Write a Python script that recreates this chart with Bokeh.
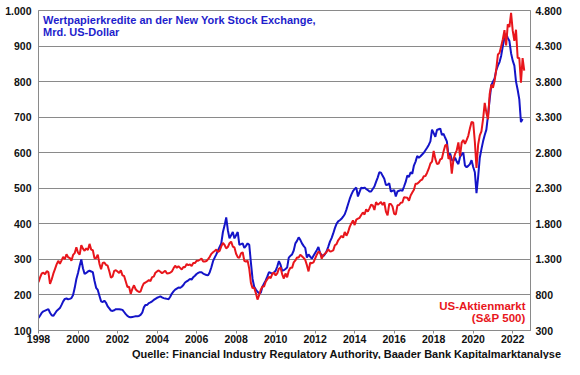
from bokeh.plotting import figure
from bokeh.models import Range1d, LinearAxis, FixedTicker, Label, Title
from bokeh.embed import file_html
from bokeh.resources import INLINE

# ---------------- data ----------------
start_year = 1998
x_tick_years = [1998, 2000, 2002, 2004, 2006, 2008, 2010, 2012, 2014, 2016, 2018, 2020, 2022]
x_tick_labels = ["1998", "2000", "2002", "2004", "2006", "2008", "2010", "2012", "2014", "2016", "2018", "2020", "2022"]
left_ticks = [100, 200, 300, 400, 500, 600, 700, 800, 900, 1000]
left_labels = ["100", "200", "300", "400", "500", "600", "700", "800", "900", "1.000"]
right_ticks = [300, 800, 1300, 1800, 2300, 2800, 3300, 3800, 4300, 4800]
right_labels = ["300", "800", "1.300", "1.800", "2.300", "2.800", "3.300", "3.800", "4.300", "4.800"]

# Margin debt at NYSE, bn USD, monthly from Jan 1998
margin_debt = [
    135, 142, 150, 154, 156, 158, 160, 150, 143, 141, 148, 155,   # 1998
    159, 163, 172, 182, 189, 190, 188, 189, 191, 200, 220, 245,   # 1999
    262, 282, 300, 275, 259, 262, 266, 268, 266, 264, 240, 220,   # 2000
    214, 198, 182, 180, 184, 178, 168, 162, 156, 155, 157, 160,   # 2001
    160, 160, 159, 158, 152, 146, 141, 138, 137, 138, 139, 140,   # 2002
    140, 141, 144, 150, 165, 172, 172, 177, 179, 182, 186, 189,   # 2003
    192, 194, 196, 193, 191, 190, 189, 188, 195, 204, 210, 215,   # 2004
    218, 221, 220, 223, 228, 235, 238, 241, 245, 243, 250, 254,   # 2005
    259, 262, 264, 264, 260, 258, 256, 255, 264, 278, 295, 305,   # 2006
    314, 325, 335, 345, 377, 395, 418, 382, 359, 368, 377, 359,   # 2007
    368, 377, 341, 343, 345, 332, 338, 345, 341, 291, 245, 223,   # 2008
    215, 209, 205, 206, 223, 232, 241, 252, 264, 262, 259, 263,   # 2009
    268, 280, 295, 285, 268, 270, 273, 277, 305, 310, 314, 325,   # 2010
    345, 352, 362, 355, 345, 338, 332, 305, 314, 308, 302, 310,   # 2011
    318, 326, 335, 318, 312, 309, 315, 323, 336, 350, 360, 373,   # 2012
    388, 400, 407, 410, 414, 420, 427, 440, 455, 470, 482, 492,   # 2013
    498, 502, 477, 490, 502, 500, 502, 498, 495, 491, 491, 498,   # 2014
    505, 518, 530, 545, 544, 535, 527, 509, 510, 514, 491, 493,   # 2015
    495, 477, 491, 493, 495, 493, 505, 518, 536, 532, 545, 541,   # 2016
    564, 575, 591, 586, 590, 595, 600, 607, 614, 622, 632, 665,   # 2017
    655, 645, 664, 666, 668, 650, 653, 642, 632, 591, 598, 580,   # 2018
    577, 586, 575, 568, 588, 595, 600, 564, 559, 563, 568, 579,   # 2019
    560, 545, 486, 532, 586, 610, 632, 650, 665, 705, 750, 790,   # 2020
    800, 809, 832, 845, 855, 873, 900, 923, 934, 923, 914, 880,   # 2021
    859, 845, 800, 777, 750, 686, 695,                            # 2022
]

# S&P 500, monthly from Jan 1998
sp500 = [
    980, 1049, 1102, 1112, 1091, 1134, 1121, 957, 1017, 1099, 1164, 1229,
    1280, 1238, 1286, 1335, 1302, 1373, 1329, 1320, 1283, 1363, 1389, 1469,
    1394, 1366, 1499, 1452, 1421, 1455, 1431, 1518, 1437, 1429, 1315, 1320,
    1366, 1240, 1160, 1249, 1256, 1224, 1211, 1134, 1041, 1060, 1139, 1148,
    1130, 1107, 1147, 1076, 1067, 990, 912, 916, 815, 886, 936, 880,
    856, 841, 848, 917, 964, 975, 990, 1008, 996, 1051, 1058, 1112,
    1131, 1145, 1126, 1107, 1121, 1141, 1102, 1104, 1115, 1130, 1174, 1212,
    1181, 1204, 1181, 1157, 1192, 1191, 1234, 1220, 1229, 1207, 1249, 1248,
    1280, 1281, 1295, 1311, 1270, 1270, 1277, 1304, 1336, 1378, 1401, 1418,
    1438, 1407, 1421, 1482, 1531, 1503, 1455, 1474, 1527, 1549, 1481, 1468,
    1379, 1331, 1323, 1386, 1400, 1280, 1267, 1283, 1166, 969, 896, 903,
    826, 735, 798, 873, 919, 919, 987, 1021, 1057, 1036, 1096, 1115,
    1074, 1104, 1169, 1187, 1089, 1031, 1102, 1049, 1141, 1183, 1181, 1258,
    1286, 1327, 1326, 1364, 1345, 1321, 1292, 1219, 1131, 1253, 1247, 1258,
    1312, 1366, 1408, 1398, 1310, 1362, 1379, 1407, 1441, 1412, 1416, 1426,
    1498, 1515, 1569, 1598, 1631, 1606, 1686, 1633, 1682, 1757, 1806, 1848,
    1783, 1859, 1872, 1884, 1924, 1960, 1931, 2003, 1972, 2018, 2068, 2059,
    1995, 2105, 2068, 2086, 2107, 2063, 2104, 1972, 1920, 2079, 2080, 2044,
    1940, 1932, 2060, 2065, 2097, 2099, 2174, 2171, 2168, 2126, 2199, 2239,
    2279, 2364, 2363, 2384, 2412, 2423, 2470, 2472, 2519, 2575, 2648, 2674,
    2824, 2714, 2641, 2648, 2705, 2718, 2816, 2902, 2914, 2712, 2760, 2507,
    2704, 2784, 2834, 2946, 2752, 2942, 2980, 2926, 2977, 3038, 3141, 3231,
    3226, 2954, 2585, 2912, 3044, 3100, 3271, 3500, 3363, 3270, 3622, 3756,
    3714, 3811, 3973, 4181, 4204, 4298, 4395, 4523, 4308, 4605, 4567, 4766,
    4516, 4374, 4530, 4132, 4132, 3785, 4130, 3955,
]

title_lines = ["Wertpapierkredite an der New York Stock Exchange,", "Mrd. US-Dollar"]
sp_lines = ["US-Aktienmarkt", "(S&P 500)"]
source_text = "Quelle: Financial Industry Regulatory Authority, Baader Bank Kapitalmarktanalyse"

# ---------------- styling ----------------
BLUE = "#1414C8"
RED = "#E8161C"
GRID = "#8A8A8A"
FONT = "Liberation Sans"
X_END = 2022.9

x_md = [start_year + i / 12 for i in range(len(margin_debt))]
x_sp = [start_year + i / 12 for i in range(len(sp500))]

p = figure(width=564, height=359, output_backend="svg", toolbar_location=None,
           x_range=Range1d(start_year, X_END), y_range=Range1d(100, 1000),
           min_border_left=38, min_border_right=32, min_border_top=10, min_border_bottom=20)
p.extra_y_ranges = {"sp": Range1d(300, 4800)}
p.background_fill_color = "white"
p.border_fill_color = "white"
p.outline_line_color = GRID
p.outline_line_width = 1

p.line(x_md, margin_debt, line_color=BLUE, line_width=2)
p.line(x_sp, sp500, line_color=RED, line_width=2, y_range_name="sp")

# grid
p.xgrid.visible = False
p.ygrid.ticker = FixedTicker(ticks=left_ticks)
p.ygrid.grid_line_color = GRID
p.ygrid.grid_line_width = 1

def style_axis(ax):
    ax.axis_line_color = GRID
    ax.major_tick_line_color = GRID
    ax.minor_tick_line_color = None
    ax.major_label_text_font = FONT
    ax.major_label_text_font_style = "bold"
    ax.major_label_text_font_size = "10.5px"
    ax.major_label_text_color = "#111111"

# x axis
xa = p.xaxis[0]
style_axis(xa)
xa.ticker = FixedTicker(ticks=x_tick_years)
xa.major_label_overrides = dict(zip(x_tick_years, x_tick_labels))
xa.major_tick_out = 3
xa.major_tick_in = 0
xa.major_label_standoff = 1

# left axis
ya = p.yaxis[0]
style_axis(ya)
ya.ticker = FixedTicker(ticks=left_ticks)
ya.major_label_overrides = dict(zip(left_ticks, left_labels))
ya.major_tick_out = 0
ya.major_tick_in = 0
ya.major_label_standoff = 7

# right axis
ra = LinearAxis(y_range_name="sp")
style_axis(ra)
ra.ticker = FixedTicker(ticks=right_ticks)
ra.major_label_overrides = dict(zip(right_ticks, right_labels))
ra.major_tick_out = 0
ra.major_tick_in = 0
ra.major_label_standoff = 5
p.add_layout(ra, "right")

# source line below the axis
src = Title(text=source_text, align="right", text_font=FONT, text_font_style="bold",
            text_font_size="11px", text_color="#111111", standoff=0, offset=-31)
p.add_layout(src, "below")

# texts inside the plot, anchored at plot corners
for i, t in enumerate(title_lines):
    p.add_layout(Label(x=start_year, y=1000, x_offset=4.5, y_offset=-9 - 12 * i,
                       text=t, text_font=FONT, text_font_style="bold", text_font_size="11px",
                       text_color="#1E1ECC", text_baseline="middle", text_align="left"))
for i, t in enumerate(sp_lines):
    p.add_layout(Label(x=X_END, y=100, x_offset=-5, y_offset=25 - 12.5 * i,
                       text=t, text_font=FONT, text_font_style="bold", text_font_size="11.5px",
                       text_color=RED, text_baseline="middle", text_align="right"))

open("out.html", "w").write(file_html(p, INLINE))
